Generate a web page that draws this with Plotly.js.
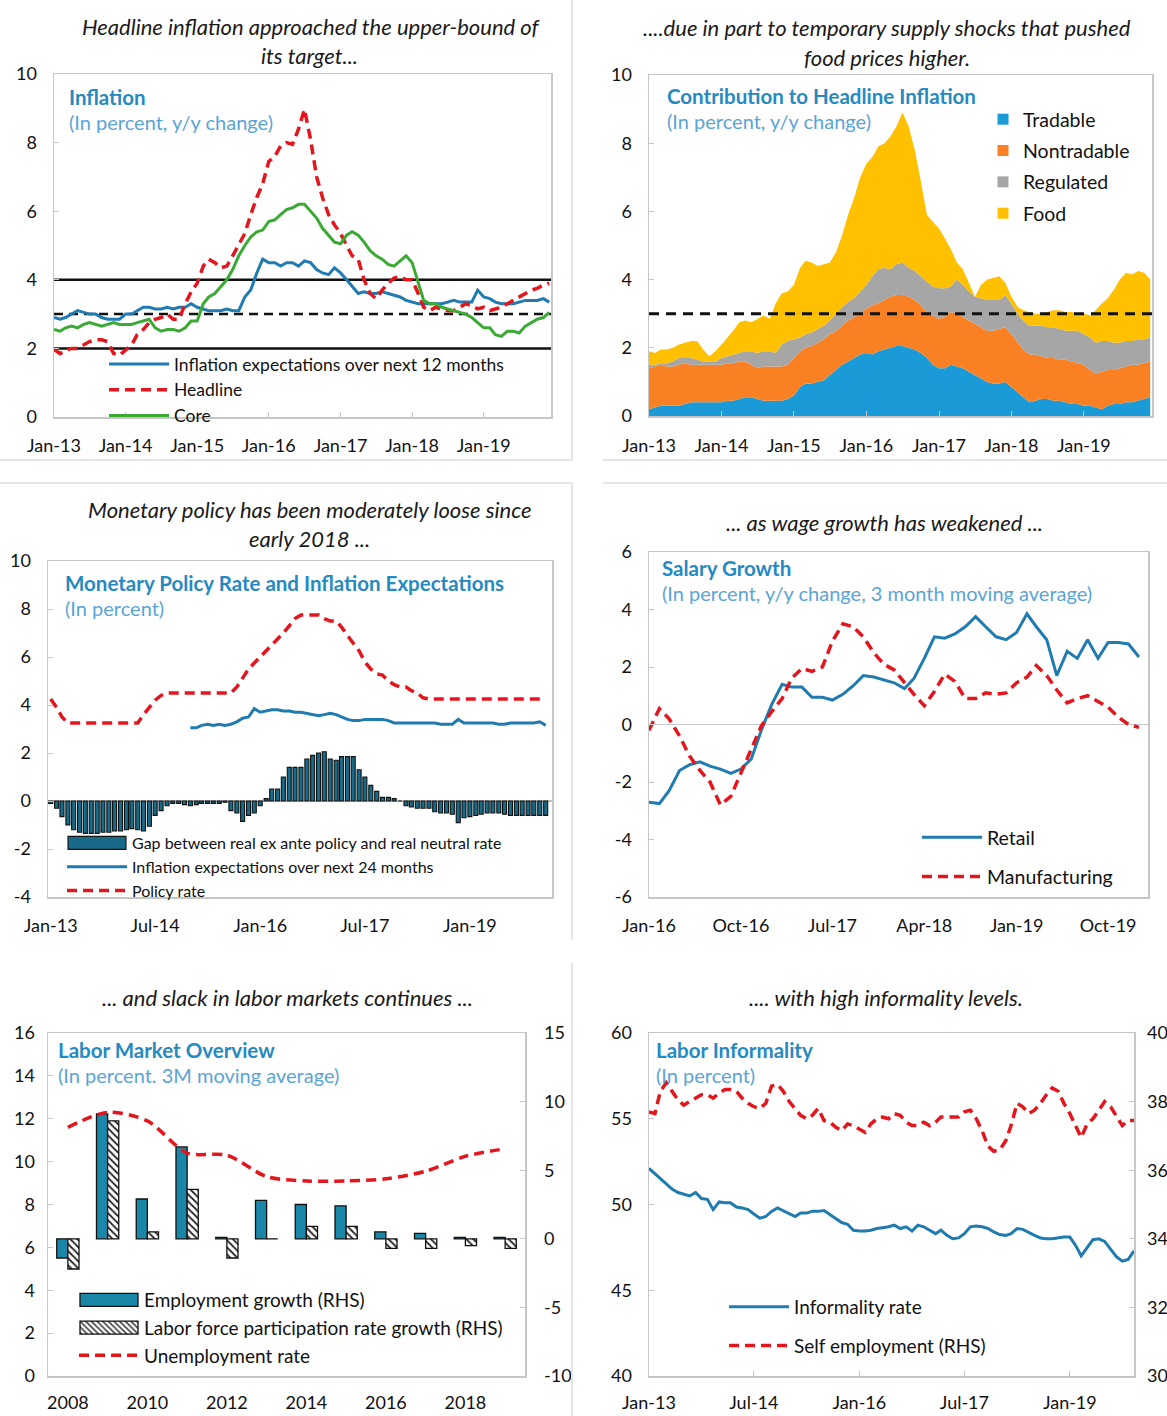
<!DOCTYPE html>
<html><head><meta charset="utf-8">
<script src="https://cdn.plot.ly/plotly-3.0.1.min.js"></script>
<style>html,body{margin:0;padding:0;background:#fff;overflow:hidden}#chart{width:1167px;height:1416px}</style>
</head><body><div id="chart"></div>
<script>
// ---------------- DATA ----------------
// Panel 1: Inflation (monthly, Jan-13 .. Dec-19)
const inflExpect12 = [2.9,2.85,2.9,3.0,3.1,3.05,3.0,3.0,2.9,2.85,2.85,2.85,
 3.0,3.0,3.1,3.2,3.2,3.15,3.15,3.2,3.15,3.2,3.2,3.3,
 3.2,3.15,3.1,3.1,3.1,3.15,3.1,3.1,3.5,3.7,4.2,4.6,
 4.5,4.5,4.4,4.5,4.5,4.4,4.55,4.5,4.3,4.2,4.15,4.35,
 4.2,4.0,3.8,3.6,3.65,3.6,3.6,3.65,3.6,3.55,3.5,3.4,
 3.35,3.3,3.3,3.3,3.3,3.3,3.35,3.4,3.35,3.35,3.35,3.7,
 3.5,3.45,3.35,3.3,3.3,3.3,3.35,3.4,3.4,3.4,3.45,3.35];
const headline = [1.97,1.85,1.95,2.0,2.0,2.1,2.2,2.25,2.25,2.2,1.85,1.8,
 1.95,2.1,2.4,2.55,2.75,2.85,2.9,3.0,2.85,2.85,3.3,3.65,
 3.9,4.4,4.6,4.5,4.35,4.4,4.7,5.0,5.35,5.9,6.4,6.8,
 7.45,7.6,7.9,8.0,7.95,8.4,8.97,8.1,7.0,6.4,5.9,5.6,
 5.35,5.0,4.7,4.6,4.0,3.6,3.45,3.7,3.9,4.05,4.1,4.0,
 4.0,3.6,3.2,3.1,3.2,3.15,3.1,3.1,3.2,3.3,3.25,3.15,
 3.2,3.1,3.15,3.2,3.3,3.4,3.5,3.6,3.7,3.75,3.85,3.9];
const core = [2.55,2.5,2.6,2.65,2.6,2.7,2.75,2.7,2.65,2.7,2.75,2.7,
 2.7,2.7,2.75,2.8,2.85,2.6,2.5,2.55,2.55,2.5,2.6,2.8,
 2.8,3.3,3.5,3.6,3.8,4.0,4.3,4.7,5.0,5.25,5.4,5.45,
 5.7,5.75,5.9,6.05,6.1,6.2,6.2,6.0,5.8,5.5,5.3,5.1,
 5.05,5.3,5.4,5.3,5.1,4.85,4.7,4.6,4.45,4.4,4.55,4.7,
 4.5,3.9,3.4,3.3,3.3,3.2,3.15,3.1,3.05,3.0,2.9,2.75,
 2.6,2.6,2.4,2.35,2.5,2.5,2.45,2.65,2.75,2.85,2.9,3.05];
const targetBand = [2, 3, 4];

// Panel 2: Contribution to headline inflation (cumulative stack levels)
const cumTradable = [0.2,0.25,0.3,0.3,0.3,0.3,0.35,0.4,0.4,0.4,0.4,0.4,
 0.4,0.45,0.45,0.5,0.55,0.55,0.5,0.45,0.45,0.45,0.45,0.5,
 0.6,0.85,0.95,0.95,1.0,1.05,1.2,1.35,1.5,1.6,1.7,1.8,
 1.85,1.8,1.9,1.95,2.0,2.05,2.05,2.0,1.95,1.85,1.7,1.5,
 1.4,1.4,1.5,1.45,1.4,1.3,1.2,1.1,1.0,0.95,0.95,1.0,
 0.85,0.7,0.55,0.4,0.45,0.5,0.5,0.45,0.45,0.4,0.35,0.35,
 0.3,0.3,0.25,0.2,0.3,0.35,0.35,0.4,0.4,0.45,0.5,0.55];
const cumNontradable = [1.4,1.45,1.5,1.45,1.45,1.5,1.55,1.5,1.5,1.5,1.5,1.5,
 1.5,1.55,1.55,1.6,1.6,1.5,1.4,1.45,1.45,1.45,1.45,1.5,
 1.7,1.9,2.0,2.05,2.15,2.25,2.4,2.5,2.65,2.8,2.9,3.0,
 3.15,3.25,3.3,3.4,3.5,3.55,3.55,3.5,3.4,3.25,3.05,2.95,
 2.85,2.9,3.05,3.0,2.9,2.8,2.7,2.6,2.5,2.5,2.55,2.6,
 2.4,2.15,1.95,1.8,1.8,1.75,1.7,1.7,1.65,1.65,1.6,1.55,
 1.5,1.35,1.25,1.3,1.35,1.35,1.4,1.45,1.5,1.5,1.55,1.6];
const cumRegulated = [1.5,1.5,1.55,1.55,1.6,1.7,1.7,1.7,1.65,1.6,1.6,1.6,
 1.7,1.75,1.8,1.85,1.9,1.9,1.85,1.9,1.9,1.85,2.1,2.2,
 2.25,2.3,2.4,2.45,2.55,2.65,2.8,3.0,3.2,3.35,3.45,3.65,
 3.85,4.1,4.3,4.35,4.3,4.45,4.5,4.35,4.25,4.1,3.95,3.8,
 3.75,3.75,3.8,4.0,3.85,3.65,3.5,3.45,3.4,3.4,3.4,3.55,
 3.3,3.0,2.8,2.65,2.65,2.65,2.6,2.6,2.55,2.5,2.5,2.5,
 2.4,2.3,2.15,2.2,2.2,2.15,2.15,2.2,2.2,2.25,2.25,2.3];
const cumFood = [1.9,1.85,1.95,1.95,2.0,2.1,2.15,2.2,2.2,1.95,1.75,1.9,
 2.1,2.3,2.5,2.75,2.8,2.75,2.85,2.95,2.85,3.3,3.6,3.65,
 3.85,4.35,4.55,4.5,4.4,4.45,4.5,4.8,5.3,5.9,6.4,7.0,
 7.4,7.6,7.9,8.0,8.2,8.5,8.9,8.5,7.8,6.9,5.9,5.7,
 5.5,5.2,4.9,4.5,4.3,3.9,3.5,3.85,4.0,4.05,4.1,3.9,
 3.5,3.2,3.1,3.05,3.0,3.0,3.05,3.1,3.1,3.05,3.05,3.0,
 3.0,2.95,3.1,3.3,3.45,3.7,4.0,4.2,4.15,4.25,4.2,4.0];
const inflationTarget = 3;

// Panel 3: Monetary policy (monthly, Jan-13 .. Feb-20)
const policyGap = [-0.1,-0.3,-0.65,-1.0,-1.2,-1.3,-1.35,-1.35,-1.35,-1.3,-1.3,-1.25,
 -1.25,-1.2,-1.15,-1.2,-1.25,-1.05,-0.6,-0.4,-0.2,-0.1,-0.1,-0.15,
 -0.2,-0.15,-0.1,-0.1,-0.1,-0.1,-0.05,-0.4,-0.5,-0.85,-0.6,-0.5,
 -0.2,0.1,0.5,0.5,1.0,1.4,1.4,1.4,1.75,1.9,2.0,2.05,
 1.75,1.7,1.85,1.85,1.85,1.3,1.0,0.65,0.4,0.15,0.15,0.1,
 0.0,-0.2,-0.25,-0.3,-0.3,-0.3,-0.45,-0.5,-0.5,-0.55,-0.9,-0.7,
 -0.65,-0.6,-0.55,-0.5,-0.5,-0.5,-0.55,-0.6,-0.6,-0.6,-0.6,-0.6,
 -0.6,-0.6];
const inflExpect24 = [3.05,3.05,3.15,3.2,3.15,3.2,3.15,3.2,3.3,3.45,3.5,3.85,
 3.7,3.75,3.8,3.8,3.75,3.75,3.7,3.7,3.65,3.6,3.55,3.6,
 3.65,3.6,3.5,3.4,3.35,3.35,3.4,3.4,3.4,3.4,3.35,3.25,
 3.25,3.25,3.25,3.25,3.25,3.25,3.25,3.2,3.2,3.2,3.4,3.25,
 3.25,3.25,3.25,3.25,3.25,3.2,3.2,3.25,3.25,3.25,3.25,3.25,
 3.3,3.15];   // Jan-15 .. Feb-20
const policyRate = [4.25,3.9,3.5,3.25,3.25,3.25,3.25,3.25,3.25,3.25,3.25,3.25,
 3.25,3.25,3.25,3.25,3.6,3.9,4.2,4.4,4.5,4.5,4.5,4.5,
 4.5,4.5,4.5,4.5,4.5,4.5,4.5,4.5,4.75,5.1,5.5,5.75,
 6.0,6.3,6.5,6.75,7.0,7.3,7.6,7.75,7.75,7.75,7.75,7.6,
 7.5,7.5,7.25,6.9,6.6,6.25,5.8,5.5,5.3,5.25,5.0,4.85,
 4.75,4.75,4.6,4.5,4.3,4.25,4.25,4.25,4.25,4.25,4.25,4.25,
 4.25,4.25,4.25,4.25,4.25,4.25,4.25,4.25,4.25,4.25,4.25,4.25,
 4.25,4.25];

// Panel 4: Salary growth (monthly, Jan-16 .. Jan-20)
const retail = [-2.7,-2.75,-2.3,-1.6,-1.4,-1.3,-1.45,-1.55,-1.7,-1.55,-1.2,-0.2,
 0.7,1.4,1.3,1.3,0.95,0.95,0.85,1.05,1.35,1.7,1.65,1.55,
 1.45,1.25,1.6,2.3,3.05,3.0,3.15,3.4,3.75,3.4,3.05,2.95,
 3.2,3.85,3.4,2.95,1.7,2.55,2.3,2.95,2.3,2.85,2.85,2.8,
 2.35];
const manufacturing = [-0.2,0.55,0.2,-0.4,-1.1,-1.6,-2.0,-2.8,-2.5,-1.7,-0.9,-0.05,
 0.45,0.9,1.6,1.95,1.85,2.0,2.9,3.5,3.4,3.05,2.5,2.1,
 1.9,1.45,1.05,0.65,1.15,1.75,1.5,0.9,0.9,1.1,1.05,1.1,
 1.45,1.65,2.05,1.7,1.2,0.75,0.9,1.0,0.8,0.6,0.25,0.0,
 -0.1];

// Panel 5: Labor market overview (annual)
const labYears = [2008,2009,2010,2011,2012,2013,2014,2015,2016,2017,2018,2019];
const employmentGrowth = [-1.4,9.1,2.9,6.7,0.1,2.8,2.5,2.4,0.5,0.4,0.1,0.1];
const lfpGrowth = [-2.2,8.6,0.5,3.6,-1.4,0.0,0.9,0.9,-0.7,-0.7,-0.5,-0.7];
const unemploymentRate = [11.6,12.3,11.9,10.4,10.3,9.3,9.1,9.1,9.2,9.55,10.25,10.6];

// Panel 6: Labor informality (monthly, Jan-13 .. Dec-19)
const informality = [52.1,51.8,51.5,51.2,50.9,50.7,50.6,50.5,50.7,50.35,50.3,49.7,
 50.15,50.1,50.1,49.85,49.8,49.7,49.45,49.2,49.3,49.6,49.8,49.65,
 49.5,49.3,49.5,49.5,49.6,49.6,49.65,49.4,49.15,48.95,48.85,48.5,
 48.45,48.45,48.5,48.6,48.65,48.7,48.8,48.6,48.7,48.45,48.8,48.7,
 48.5,48.3,48.5,48.2,48.0,48.05,48.3,48.7,48.75,48.7,48.6,48.4,
 48.25,48.2,48.3,48.6,48.55,48.35,48.2,48.05,48.0,48.0,48.05,48.1,
 48.1,47.6,47.0,47.5,47.95,48.0,47.85,47.4,46.95,46.7,46.8,47.3];
const selfEmployment = [37.7,37.65,38.3,38.55,38.3,38.05,37.9,38.0,38.1,38.2,38.2,38.1,
 38.25,38.35,38.35,38.3,38.1,37.95,37.85,37.8,37.95,38.45,38.5,38.3,
 38.0,37.8,37.6,37.5,37.6,37.8,37.45,37.4,37.25,37.15,37.35,37.3,
 37.2,37.1,37.35,37.5,37.55,37.5,37.65,37.6,37.4,37.3,37.3,37.4,
 37.3,37.4,37.55,37.55,37.55,37.55,37.7,37.75,37.5,37.15,36.7,36.55,
 36.6,36.85,37.3,37.95,37.85,37.65,37.75,37.95,38.2,38.4,38.3,37.95,
 37.65,37.25,36.95,37.35,37.5,37.75,38.0,37.85,37.55,37.3,37.45,37.45];

// Tick labels
const yearTickLabels = ['Jan-13','Jan-14','Jan-15','Jan-16','Jan-17','Jan-18','Jan-19'];
const yearTickDates = ['2013-01-01','2014-01-01','2015-01-01','2016-01-01','2017-01-01','2018-01-01','2019-01-01'];
const halfTickLabels = ['Jan-13','Jul-14','Jan-16','Jul-17','Jan-19'];
const halfTickDates = ['2013-01-01','2014-07-01','2016-01-01','2017-07-01','2019-01-01'];
const salaryTickLabels = ['Jan-16','Oct-16','Jul-17','Apr-18','Jan-19','Oct-19'];
const salaryTickDates = ['2016-01-01','2016-10-01','2017-07-01','2018-04-01','2019-01-01','2019-10-01'];
const labTickYears = [2008,2010,2012,2014,2016,2018];

// ---------------- HELPERS ----------------
function months(y, m, n){
  const out=[];
  for(let i=0;i<n;i++){
    const k=m-1+i; const yy=y+Math.floor(k/12); const mm=(k%12)+1;
    out.push(yy+'-'+String(mm).padStart(2,'0')+'-01');
  }
  return out;
}
const W=1167, H=1416;
const px=x=>x/W, py=y=>1-y/H;
const FONT='Lato, "Open Sans", sans-serif';
const BOX='#c6c6c6';
const BLUE='#1f7bb0', RED='#e3161d', GREEN='#3aaa35';
const TITLEBLUE='#2589c2', SUBBLUE='#5aa4d6';
const DASH='10px,6px';
const tickfont={family:FONT,size:18,color:'#111'};

function xAx(l,r,anchor,extra){
  return Object.assign({domain:[px(l),px(r)],anchor:anchor,showline:true,linecolor:BOX,linewidth:1.5,mirror:true,
    showgrid:false,zeroline:false,ticks:'inside',ticklen:5,tickcolor:BOX,tickfont:tickfont,
    ticklabelstandoff:12,fixedrange:true},extra);
}
function yAx(t,b,anchor,extra){
  return Object.assign({domain:[py(b),py(t)],anchor:anchor,showline:true,linecolor:BOX,linewidth:1.5,mirror:true,
    showgrid:false,zeroline:false,ticks:'inside',ticklen:5,tickcolor:BOX,tickfont:tickfont,
    ticklabelstandoff:12,fixedrange:true},extra);
}

const m84 = months(2013,1,84);
const m86 = months(2013,1,86);
const m62 = months(2015,1,62);
const m49 = months(2016,1,49);

// ---------------- TRACES ----------------
const traces = [];
// Panel 1
traces.push({x:m84,y:inflExpect12,name:'Inflation expectations over next 12 months',mode:'lines',line:{color:BLUE,width:3},xaxis:'x',yaxis:'y',legend:'legend'});
traces.push({x:m84,y:headline,name:'Headline',mode:'lines',line:{color:RED,width:3.5,dash:DASH},xaxis:'x',yaxis:'y',legend:'legend'});
traces.push({x:m84,y:core,name:'Core',mode:'lines',line:{color:GREEN,width:3},xaxis:'x',yaxis:'y',legend:'legend'});

// Panel 2 (areas)
const areaCols=['#1a9bd7','#f98124','#a6a6a6','#ffc000'];
const areaNames=['Tradable','Nontradable','Regulated','Food'];
[cumTradable,cumNontradable,cumRegulated,cumFood].forEach((arr,i)=>{
  traces.push({x:m84,y:arr,name:areaNames[i],mode:'lines',line:{width:0,color:areaCols[i]},fill:i===0?'tozeroy':'tonexty',
    fillcolor:areaCols[i],xaxis:'x2',yaxis:'y2',showlegend:false});
});
areaNames.forEach((n,i)=>{
  traces.push({x:[null],y:[null],name:n,mode:'markers',marker:{symbol:'square',size:11,color:areaCols[i]},
    xaxis:'x2',yaxis:'y2',legend:'legend2',legendgroup:'g'+i});
});

// Panel 3
traces.push({type:'bar',x:m86,y:policyGap,name:'Gap between real ex ante policy and real neutral rate',width:21*86400000,
  marker:{color:'#176a88',line:{color:'#111',width:1.1}},xaxis:'x3',yaxis:'y3',legend:'legend3'});
traces.push({x:m62,y:inflExpect24,name:'Inflation expectations over next 24 months',mode:'lines',line:{color:BLUE,width:3},xaxis:'x3',yaxis:'y3',legend:'legend3'});
traces.push({x:m86,y:policyRate,name:'Policy rate',mode:'lines',line:{color:RED,width:3.5,dash:DASH},xaxis:'x3',yaxis:'y3',legend:'legend3'});

// Panel 4
traces.push({x:m49,y:retail,name:'Retail',mode:'lines',line:{color:BLUE,width:3},xaxis:'x4',yaxis:'y4',legend:'legend4',legendgroup:'r'});
traces.push({x:m49,y:manufacturing,name:'Manufacturing',mode:'lines',line:{color:RED,width:3.5,dash:DASH},xaxis:'x4',yaxis:'y4',legend:'legend4',legendgroup:'m'});

// Panel 5
traces.push({type:'bar',x:labYears,y:employmentGrowth,name:'Employment growth (RHS)',width:0.28,offset:-0.28,
  marker:{color:'#1a86a8',line:{color:'#111',width:1.3}},xaxis:'x5',yaxis:'y5',legend:'legend5'});
traces.push({type:'bar',x:labYears,y:lfpGrowth,name:'Labor force participation rate growth (RHS)',width:0.28,offset:0,
  marker:{color:'white',line:{color:'#111',width:1.3},pattern:{shape:'\\',fgcolor:'#222',bgcolor:'white',size:5,solidity:0.35}},
  xaxis:'x5',yaxis:'y5',legend:'legend5'});
traces.push({x:labYears,y:unemploymentRate,name:'Unemployment rate',mode:'lines',line:{color:RED,width:3.5,dash:DASH,shape:'spline',smoothing:0.8},
  xaxis:'x5',yaxis:'y7',legend:'legend5'});

// Panel 6
traces.push({x:m84,y:informality,name:'Informality rate',mode:'lines',line:{color:BLUE,width:3},xaxis:'x6',yaxis:'y6',legend:'legend6',legendgroup:'i'});
traces.push({x:m84,y:selfEmployment,name:'Self employment (RHS)',mode:'lines',line:{color:RED,width:3.5,dash:DASH},xaxis:'x6',yaxis:'y8',legend:'legend6',legendgroup:'s'});

// ---------------- ANNOTATIONS ----------------
const annotations=[];
function txt(t,x,y,opts){
  annotations.push(Object.assign({xref:'paper',yref:'paper',x:px(x),y:py(y),xanchor:'center',yanchor:'middle',
    text:t,showarrow:false,font:{family:FONT,size:22,color:'#1a1a1a'}},opts||{}));
}
function header(t,x,y){ txt('<i>'+t+'</i>',x,y); }
function inner(t,s,x,y){
  txt('<b>'+t+'</b>',x,y,{xanchor:'left',font:{family:FONT,size:20.5,color:TITLEBLUE}});
  txt(s,x,y+25,{xanchor:'left',font:{family:FONT,size:20,color:SUBBLUE}});
}
header('Headline inflation approached the upper-bound of',311,27);
header('its target...',309,55);
header('....due in part to temporary supply shocks that pushed',887,28);
header('food prices higher.',887,57);
header('Monetary policy has been moderately loose since',310,510);
header('early 2018 ...',309,538);
header('... as wage growth has weakened ...',884,522);
header('... and slack in labor markets continues ...',287,997);
header('.... with high informality levels.',886,997);

inner('Inflation','(In percent, y/y change)',67,97);
inner('Contribution to Headline Inflation','(In percent, y/y change)',665,96);
inner('Monetary Policy Rate and Inflation Expectations','(In percent)',63,583);
inner('Salary Growth','(In percent, y/y change, 3 month moving average)',660,568);
inner('Labor Market Overview','(In percent. 3M moving average)',56,1050);
inner('Labor Informality','(In percent)',654,1050);

// ---------------- SHAPES ----------------
const shapes=[];
targetBand.forEach(v=>{
  shapes.push({type:'line',xref:'x domain',yref:'y',x0:0,x1:1,y0:v,y1:v,layer:'below',
    line:{color:'#111',width:2.5,dash:v===targetBand[1]?'9px,6px':'solid'}});
});
shapes.push({type:'line',xref:'x2 domain',yref:'y2',x0:0,x1:1,y0:inflationTarget,y1:inflationTarget,layer:'above',
  line:{color:'#111',width:3,dash:'10px,7px'}});
const SEP='#e6e6e6';
[[572,0,572,460],[0,460,572,460],[603,460,1167,460],[0,483,572,483],[572,483,572,940],[603,483,1167,483],[572,963,572,1416]]
 .forEach(s=>shapes.push({type:'line',xref:'paper',yref:'paper',x0:px(s[0]),y0:py(s[1]),x1:px(s[2]),y1:py(s[3]),line:{color:SEP,width:2}}));

// ---------------- LAYOUT ----------------
const legBase={xanchor:'left',yanchor:'top',bgcolor:'rgba(0,0,0,0)',traceorder:'normal',font:{family:FONT,size:19,color:'#111'}};
const layout={
  width:W,height:H,margin:{l:0,r:0,t:0,b:0},paper_bgcolor:'#fff',plot_bgcolor:'#fff',
  font:{family:FONT,color:'#111'},showlegend:true,hovermode:false,barmode:'overlay',
  xaxis:xAx(54,551,'y',{type:'date',range:['2013-01-01','2019-12-10'],tickvals:yearTickDates,ticktext:yearTickLabels,ticklabelstandoff:12}),
  yaxis:yAx(74,417,'x',{range:[0,10],tickvals:[0,2,4,6,8,10]}),
  xaxis2:xAx(649,1152,'y2',{type:'date',range:['2013-01-01','2019-12-10'],tickvals:yearTickDates,ticktext:yearTickLabels,ticklabelstandoff:13}),
  yaxis2:yAx(75,416,'x2',{range:[0,10],tickvals:[0,2,4,6,8,10]}),
  xaxis3:xAx(48,552,'y3',{type:'date',range:['2012-12-18','2020-03-05'],tickvals:halfTickDates,ticktext:halfTickLabels,ticks:'',ticklabelstandoff:12}),
  yaxis3:yAx(561,897,'x3',{range:[-4,10],tickvals:[-4,-2,0,2,4,6,8,10],ticktext:['-4','-2','0','2','4','6','8','10'],zeroline:true,zerolinecolor:BOX,zerolinewidth:1.5}),
  xaxis4:xAx(649,1148,'y4',{type:'date',range:['2016-01-01','2020-01-28'],tickvals:salaryTickDates,ticktext:salaryTickLabels,ticks:'',ticklabelstandoff:12}),
  yaxis4:yAx(552,897,'x4',{range:[-6,6],tickvals:[-6,-4,-2,0,2,4,6],ticktext:['-6','-4','-2','0','2','4','6'],zeroline:true,zerolinecolor:BOX,zerolinewidth:1.5}),
  xaxis5:xAx(48,525,'y5',{range:[2007.5,2019.5],tickvals:labTickYears,ticks:'',ticklabelstandoff:10}),
  yaxis5:yAx(1033,1376,'x5',{side:'right',range:[-10,15],tickvals:[-10,-5,0,5,10,15],ticktext:['-10','-5','0','5','10','15'],ticklabelstandoff:14}),
  yaxis7:{overlaying:'y5',anchor:'x5',side:'left',range:[0,16],tickvals:[0,2,4,6,8,10,12,14,16],showline:false,showgrid:false,zeroline:false,
    ticks:'inside',ticklen:5,tickcolor:BOX,tickfont:tickfont,ticklabelstandoff:12,fixedrange:true},
  xaxis6:xAx(649,1134,'y6',{type:'date',range:['2013-01-01','2019-12-01'],tickvals:halfTickDates,ticktext:halfTickLabels,ticklabelstandoff:10}),
  yaxis6:yAx(1033,1376,'x6',{range:[40,60],tickvals:[40,45,50,55,60]}),
  yaxis8:{overlaying:'y6',anchor:'x6',side:'right',range:[30,40],tickvals:[30,32,34,36,38,40],showline:false,showgrid:false,zeroline:false,
    ticks:'inside',ticklen:5,tickcolor:BOX,tickfont:tickfont,ticklabelstandoff:12,fixedrange:true},
  legend:Object.assign({},legBase,{x:px(104),y:py(346),itemwidth:60,font:{family:FONT,size:17.5,color:'#111'}}),
  legend2:Object.assign({},legBase,{x:px(983),y:py(100),font:{family:FONT,size:19.5,color:'#111'},traceorder:'grouped',tracegroupgap:3}),
  legend3:Object.assign({},legBase,{x:px(62),y:py(826),font:{family:FONT,size:16,color:'#111'},itemwidth:60}),
  legend4:Object.assign({},legBase,{x:px(917),y:py(818),traceorder:'grouped',tracegroupgap:11,itemwidth:60,font:{family:FONT,size:19.5,color:'#111'}}),
  legend5:Object.assign({},legBase,{x:px(74),y:py(1281),itemwidth:60}),
  legend6:Object.assign({},legBase,{x:px(724),y:py(1288),traceorder:'grouped',tracegroupgap:11,itemwidth:60}),
  annotations:annotations,shapes:shapes
};
function widenBarSwatches(){
  // widen bar legend swatches into wide rectangles, as in the reference
  document.querySelectorAll('#chart .legendpoints path').forEach(p=>{
    const d=(p.getAttribute('d')||'').replace(/\s/g,'');
    if(/^M6,6H-6V-6H6Z$/i.test(d) || p.classList.contains('legendbar')){
      p.setAttribute('d','M-29,6.5H29V-6.5H-29Z');
    }
  });
}
Plotly.newPlot('chart',traces,layout,{displayModeBar:false,staticPlot:true}).then(()=>{
  widenBarSwatches();
  setTimeout(widenBarSwatches,50);
  setTimeout(widenBarSwatches,300);
});
</script></body></html>
